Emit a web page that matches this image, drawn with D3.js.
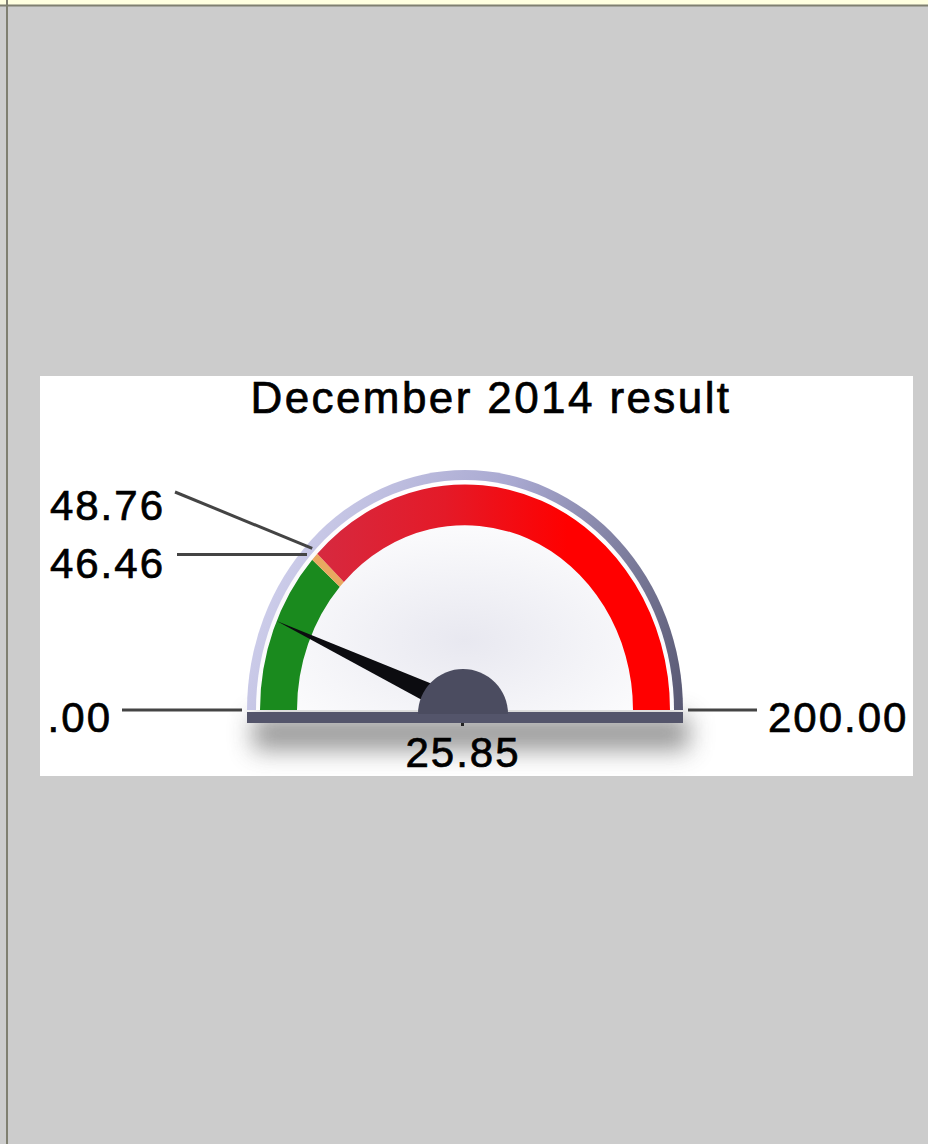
<!DOCTYPE html>
<html>
<head>
<meta charset="utf-8">
<script src="https://cdn.jsdelivr.net/npm/d3@7"></script>
<style>
  body { margin: 0; background: #cccccc; }
  svg { display: block; }
</style>
</head>
<body>
<script>
// gauge data
const gaugeTitle = "December 2014 result";
const gaugeMin = 0;
const gaugeMax = 200;
const gaugeValue = 25.85;
const bandStops = [0, 46.46, 48.76, 200];
const bandNames = ["good", "warn", "bad"];
const bandColors = ["#1a8a1e", "#e8a860", "url(#redGrad)"];
const tickLabels = [".00", "46.46", "48.76", "200.00"];
const valueLabel = "25.85";

const W = 928, H = 1144;
const cx = 465, cy = 710, sy = 1.1;

const svg = d3.select("body").append("svg")
  .attr("width", W)
  .attr("height", H);

const defs = svg.append("defs");

let red = defs.append("linearGradient").attr("id", "redGrad")
  .attr("gradientUnits", "userSpaceOnUse")
  .attr("x1", -205).attr("y1", 0).attr("x2", 205).attr("y2", 0);
red.append("stop").attr("offset", "0%").attr("stop-color", "#d0304a");
red.append("stop").attr("offset", "45%").attr("stop-color", "#e41a28");
red.append("stop").attr("offset", "75%").attr("stop-color", "#ff0000");
red.append("stop").attr("offset", "100%").attr("stop-color", "#ff0000");

let rim = defs.append("linearGradient").attr("id", "rimGrad")
  .attr("gradientUnits", "userSpaceOnUse")
  .attr("x1", -218).attr("y1", -200).attr("x2", 218).attr("y2", 0);
rim.append("stop").attr("offset", "0%").attr("stop-color", "#d8d8f2");
rim.append("stop").attr("offset", "50%").attr("stop-color", "#a8a8d0");
rim.append("stop").attr("offset", "100%").attr("stop-color", "#585872");

let face = defs.append("radialGradient").attr("id", "faceGrad")
  .attr("cx", "50%").attr("cy", "70%").attr("r", "60%");
face.append("stop").attr("offset", "0%").attr("stop-color", "#e8e8f0");
face.append("stop").attr("offset", "100%").attr("stop-color", "#ffffff");

defs.append("filter").attr("id", "shadow")
  .attr("x", "-30%").attr("y", "-100%").attr("width", "160%").attr("height", "400%")
  .append("feGaussianBlur").attr("stdDeviation", 12);

// top strip and left border
svg.append("rect").attr("x", 0).attr("y", 0).attr("width", W).attr("height", 5).attr("fill", "#ffffe0");
svg.append("line").attr("x1", 0).attr("x2", W).attr("y1", 5.5).attr("y2", 5.5)
  .attr("stroke", "#7f7f70").attr("stroke-width", 2);
svg.append("line").attr("x1", 7).attr("x2", 7).attr("y1", 0).attr("y2", H)
  .attr("stroke", "#7f7f70").attr("stroke-width", 2);

// white panel
svg.append("rect").attr("x", 40).attr("y", 376).attr("width", 873).attr("height", 400).attr("fill", "#ffffff");

const font = "Liberation Sans, Arial, sans-serif";

svg.append("text")
  .attr("x", 491).attr("y", 413)
  .attr("text-anchor", "middle")
  .attr("font-family", font)
  .attr("font-size", "44px")
  .attr("letter-spacing", "2.4px")
  .attr("fill", "black")
  .attr("stroke", "black")
  .attr("stroke-width", 0.7)
  .text(gaugeTitle);

const angle = d3.scaleLinear().domain([gaugeMin, gaugeMax]).range([-Math.PI / 2, Math.PI / 2]);

// shadow under the gauge
svg.append("rect")
  .attr("x", cx - 212).attr("y", cy + 6).attr("width", 436).attr("height", 34)
  .attr("fill", "#555").attr("opacity", 0.6)
  .attr("filter", "url(#shadow)");

const g = svg.append("g").attr("transform", `translate(${cx},${cy}) scale(1,${sy})`);

// rim + face
g.append("path")
  .attr("d", d3.arc()({ innerRadius: 0, outerRadius: 218, startAngle: -Math.PI / 2, endAngle: Math.PI / 2 }))
  .attr("fill", "url(#rimGrad)");
g.append("path")
  .attr("d", d3.arc()({ innerRadius: 0, outerRadius: 209, startAngle: -Math.PI / 2, endAngle: Math.PI / 2 }))
  .attr("fill", "url(#faceGrad)");

// colour bands
const bandArc = d3.arc().innerRadius(168).outerRadius(205);
g.selectAll("path.band")
  .data(bandNames)
  .enter()
  .append("path")
    .attr("class", "band")
    .attr("d", (d, i) => bandArc({ startAngle: angle(bandStops[i]), endAngle: angle(bandStops[i + 1]) }))
    .attr("fill", (d, i) => bandColors[i]);

// base bar
svg.append("rect")
  .attr("x", cx - 218).attr("y", cy + 2).attr("width", 436).attr("height", 11)
  .attr("fill", "#54556b");

// needle
const a = angle(gaugeValue);
const L = 205, hw = 11;
const tip = [L * Math.sin(a), -L * Math.cos(a)];
const p1 = [hw * Math.cos(a), hw * Math.sin(a)];
const p2 = [-hw * Math.cos(a), -hw * Math.sin(a)];
g.append("path")
  .attr("d", `M${p1}L${tip}L${p2}Z`)
  .attr("fill", "#0c0c10");

// hub
svg.append("path")
  .attr("transform", `translate(${cx - 2},${cy + 4})`)
  .attr("d", d3.arc()({ innerRadius: 0, outerRadius: 45, startAngle: -Math.PI / 2, endAngle: Math.PI / 2 }))
  .attr("fill", "#4b4c60");
svg.append("rect").attr("x", cx - 4).attr("y", cy + 13).attr("width", 3).attr("height", 3).attr("fill", "#222");

// leader lines + labels
function rimPoint(v, r) {
  const t = angle(v);
  return [cx + r * Math.sin(t), cy - sy * r * Math.cos(t)];
}
const lineColor = "#444444";

const pLow = rimPoint(bandStops[1], 212);
const pHigh = rimPoint(bandStops[2], 212);

const leaders = [
  { label: tickLabels[0], x1: 122, y1: cy, x2: cx - 223, y2: cy, tx: 112, ty: cy + 22, anchor: "end" },
  { label: tickLabels[1], x1: 177, y1: pLow[1], x2: pLow[0], y2: pLow[1], tx: 165, ty: pLow[1] + 23, anchor: "end" },
  { label: tickLabels[2], x1: 175, y1: 492, x2: pHigh[0], y2: pHigh[1], tx: 165, ty: 520, anchor: "end" },
  { label: tickLabels[3], x1: cx + 223, y1: cy, x2: 757, y2: cy, tx: 768, ty: cy + 22, anchor: "start" }
];

svg.selectAll("line.leader")
  .data(leaders)
  .enter()
  .append("line")
    .attr("class", "leader")
    .attr("x1", d => d.x1).attr("y1", d => d.y1)
    .attr("x2", d => d.x2).attr("y2", d => d.y2)
    .attr("stroke", lineColor)
    .attr("stroke-width", 3);

svg.selectAll("text.tick")
  .data(leaders)
  .enter()
  .append("text")
    .attr("class", "tick")
    .attr("x", d => d.tx).attr("y", d => d.ty)
    .attr("text-anchor", d => d.anchor)
    .attr("font-family", font)
    .attr("font-size", "42px")
    .attr("letter-spacing", "2px")
    .attr("fill", "black")
    .attr("stroke", "black")
    .attr("stroke-width", 0.7)
    .text(d => d.label);

svg.append("text")
  .attr("x", cx - 2).attr("y", 767)
  .attr("text-anchor", "middle")
  .attr("font-family", font)
  .attr("font-size", "42px")
  .attr("letter-spacing", "2px")
  .attr("fill", "black")
  .attr("stroke", "black")
  .attr("stroke-width", 0.7)
  .text(valueLabel);
</script>
</body>
</html>
